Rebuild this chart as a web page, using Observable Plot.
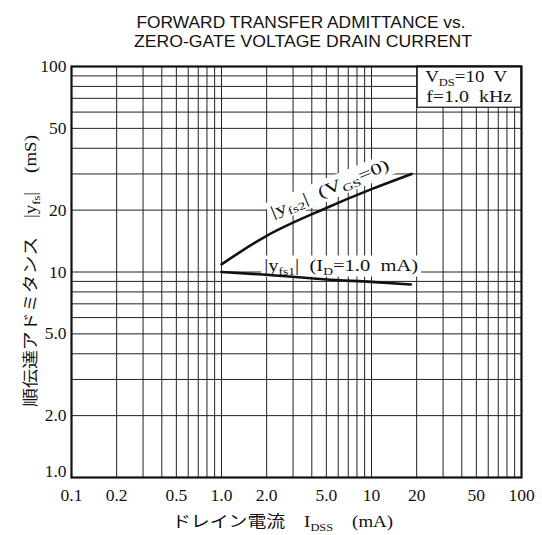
<!DOCTYPE html>
<html><head><meta charset="utf-8">
<script src="https://cdn.jsdelivr.net/npm/d3@7"></script>
<script src="https://cdn.jsdelivr.net/npm/@observablehq/plot@0.6"></script>
<style>body{margin:0;background:#fff}</style>
</head><body><div id="chart"></div>
<script>
// grid lines (log decades, 1..9 multiples)
const gridX = [0.1,0.2,0.3,0.4,0.5,0.6,0.7,0.8,0.9,1,2,3,4,5,6,7,8,9,10,20,30,40,50,60,70,80,90,100];
const gridY = [1,2,3,4,5,6,7,8,9,10,20,30,40,50,60,70,80,90,100];
// tick labels
const xTickValues = [0.1,0.2,0.5,1,2,5,10,20,50,100];
const xTickLabels = ["0.1","0.2","0.5","1.0","2.0","5.0","10","20","50","100"];
const yTickValues = [100,50,20,10,5,2];
const yTickLabels = ["100","50","20","10","5.0","2.0"];
const yBottomValue = [1];
const yBottomLabel = ["1.0"];
// series |yfs2| (VGS=0)
const idss2 = [1.0, 2.0, 5.0, 10, 18.5];
const yfs2  = [10.9, 15.0, 20.5, 25.3, 30];
// series |yfs1| (ID=1.0 mA)
const idss1 = [1.0, 2.0, 5.0, 10, 18.3];
const yfs1  = [10.0, 9.7, 9.2, 8.95, 8.7];

const serif = "'Liberation Serif', 'DejaVu Serif', serif";
const jp = "'Liberation Serif', 'Noto Sans CJK JP', serif";

const s2 = idss2.map((x, i) => ({x, y: yfs2[i]}));
const s1 = idss1.map((x, i) => ({x, y: yfs1[i]}));

const chart = Plot.plot({
  width: 542, height: 535,
  marginLeft: 71, marginRight: 21, marginTop: 66, marginBottom: 58,
  style: {background: "#fff", color: "#111"},
  x: {type: "log", domain: [0.1, 100], axis: null},
  y: {type: "log", domain: [1, 100], axis: null},
  marks: [
    Plot.ruleX(gridX, {stroke: "#222", strokeWidth: 1}),
    Plot.ruleY(gridY, {stroke: "#222", strokeWidth: 1}),
    Plot.text(xTickValues, {x: d => d, text: (d, i) => xTickLabels[i], frameAnchor: "bottom", dy: 11, lineAnchor: "top", fontSize: 17.5, fontFamily: serif, fill: "#111"}),
    Plot.text(yTickValues, {y: d => d, text: (d, i) => yTickLabels[i], frameAnchor: "left", dx: -5, textAnchor: "end", fontSize: 17.5, fontFamily: serif, fill: "#111"}),
    Plot.text(yBottomValue, {y: d => d, text: (d, i) => yBottomLabel[i], frameAnchor: "left", dx: -5, dy: -6, textAnchor: "end", fontSize: 17.5, fontFamily: serif, fill: "#111"}),
    Plot.line(s2, {x: "x", y: "y", curve: "monotone-x", stroke: "#111", strokeWidth: 2.6}),
    Plot.line(s1, {x: "x", y: "y", curve: "monotone-x", stroke: "#111", strokeWidth: 2.6}),
    Plot.frame({stroke: "#111", strokeWidth: 2.2})
  ]
});
document.getElementById("chart").appendChild(chart);

const sx = chart.scale("x").apply, sy = chart.scale("y").apply;
const svg = d3.select(chart);

function rich(parent, parts, attrs) {
  const t = parent.append("text").attr("text-anchor", "start");
  Object.entries(attrs).forEach(([k, v]) => t.attr(k, v));
  let shifted = false;
  parts.forEach(([s, sub]) => {
    const ts = t.append("tspan").text(s);
    if (sub && !shifted) { ts.attr("dy", 4).attr("font-size", "0.66em"); shifted = true; }
    else if (sub) { ts.attr("font-size", "0.66em"); }
    else if (shifted) { ts.attr("dy", -4); shifted = false; }
  });
  return t;
}
// label with a white backing that hides the grid behind it
function masked(parent, transform, parts, attrs, pad) {
  const g = parent.append("g").attr("transform", transform);
  const r = g.append("rect").attr("fill", "#fff");
  const t = rich(g, parts, attrs);
  const b = t.node().getBBox();
  r.attr("x", b.x - pad[0]).attr("y", b.y - pad[1]).attr("width", b.width + 2 * pad[0]).attr("height", b.height + pad[1] + pad[2]);
  return t;
}

// annotation layer under the curves
const under = svg.insert("g", '[aria-label="line"]');
// condition box
under.append("rect")
  .attr("x", sx(20) + 1).attr("y", sy(100))
  .attr("width", sx(100) - sx(20) - 1).attr("height", sy(63) - sy(100))
  .attr("fill", "#fff").attr("stroke", "#111").attr("stroke-width", 1.2);
rich(under, [["V"], ["DS", true], ["=10  V"]], {x: sx(20) + 9, y: sy(100) + 16, "font-family": serif, "font-size": 17, fill: "#111", textLength: 82, lengthAdjust: "spacingAndGlyphs"});
rich(under, [["f=1.0  kHz"]], {x: sx(20) + 10, y: sy(100) + 36, "font-family": serif, "font-size": 17, fill: "#111", textLength: 86, lengthAdjust: "spacingAndGlyphs"});

// |yfs2| (VGS=0) label, rotated along curve
masked(under, `translate(${sx(5.3)},${sy(25.5)}) rotate(-22.5)`,
  [["|y"], ["fs2", true], ["|  (V"], ["GS", true], ["=0)"]],
  {"dy": "0.35em", "font-family": serif, "font-size": 16, fill: "#111", textLength: 127, lengthAdjust: "spacingAndGlyphs", "text-anchor": "middle"},
  [3, 2, 0]);
// |yfs1| (ID=1.0 mA) label
masked(under, `translate(${sx(1.94)},${sy(10.0) - 1})`,
  [["|y"], ["fs1", true], ["|  (I"], ["D", true], ["=1.0  mA)"]],
  {"font-family": serif, "font-size": 16, fill: "#111", textLength: 154, lengthAdjust: "spacingAndGlyphs"},
  [3, 1, 0]);

// title
const tg = svg.append("g").attr("font-family", "'Liberation Sans', Arial, sans-serif").attr("font-size", 16.5).attr("fill", "#111").attr("text-anchor", "middle");
tg.append("text").attr("x", 301).attr("y", 28).attr("textLength", 329).attr("lengthAdjust", "spacingAndGlyphs").text("FORWARD TRANSFER ADMITTANCE vs.");
tg.append("text").attr("x", 303).attr("y", 47).attr("textLength", 338).attr("lengthAdjust", "spacingAndGlyphs").text("ZERO-GATE VOLTAGE DRAIN CURRENT");

// axis titles
rich(svg, [["ドレイン電流　I"], ["DSS", true], ["　(mA)"]],
  {x: 172, y: 527, "font-family": jp, "font-size": 16, fill: "#111", textLength: 221, lengthAdjust: "spacingAndGlyphs"});
rich(svg, [["順伝達アドミタンス　|y"], ["fs", true], ["|　(mS)"]],
  {transform: "translate(36,271) rotate(-90)", "font-family": jp, "font-size": 16, fill: "#111", textLength: 272, lengthAdjust: "spacingAndGlyphs"}).attr("text-anchor", "middle");
</script>
</body></html>
